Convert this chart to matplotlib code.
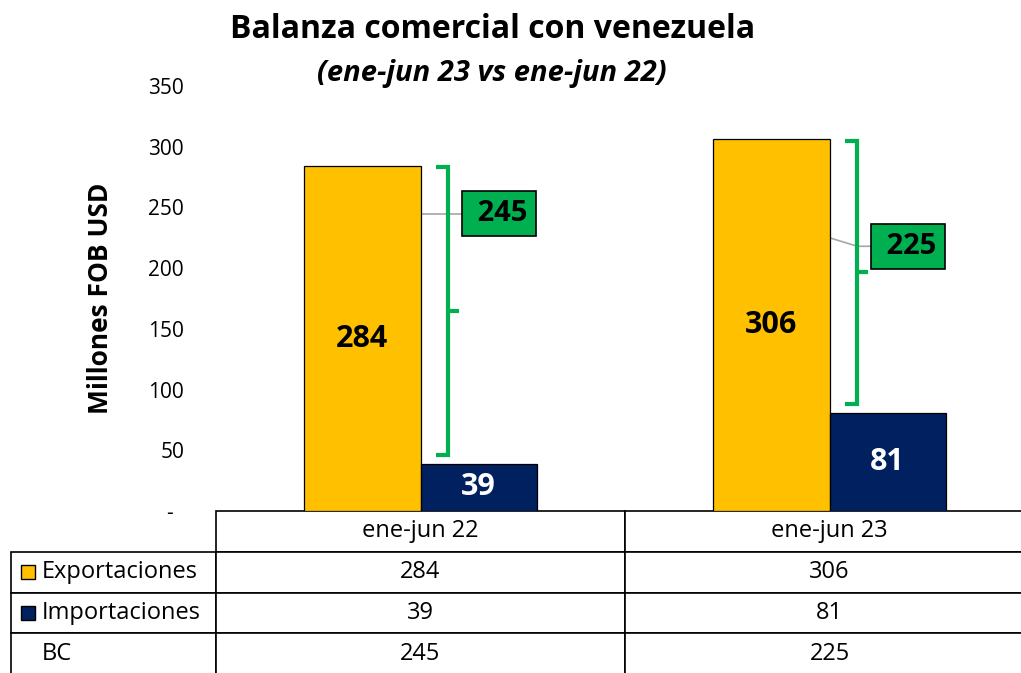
import matplotlib
matplotlib.use("Agg")
import matplotlib.pyplot as plt
from matplotlib.table import Table
import numpy as np

plt.rcParams['font.family'] = ['Open Sans', 'DejaVu Sans']

# datos
periodos = ['ene-jun 22', 'ene-jun 23']
exportaciones = [284, 306]
importaciones = [39, 81]
balanza = [245, 225]
yticks = [0, 50, 100, 150, 200, 250, 300, 350]
ytick_labels = ['-  ', '50', '100', '150', '200', '250', '300', '350']

c_exp = '#FFC000'
c_imp = '#002060'
c_bc = '#00B050'

fig = plt.figure(figsize=(10.21, 6.73), dpi=100)
ax = fig.add_axes([216 / 1021, 162 / 673, 818 / 1021, 425 / 673])

x = np.arange(len(periodos))
w = 0.284
ax.bar(x - w / 2, exportaciones, w, color=c_exp, edgecolor='black', linewidth=0.9, zorder=2)
ax.bar(x + w / 2, importaciones, w, color=c_imp, edgecolor='black', linewidth=0.9, zorder=2)

for i in range(len(periodos)):
    ax.text(x[i] - w / 2, exportaciones[i] / 2, str(exportaciones[i]), ha='center', va='center',
            fontsize=22, fontweight='bold', color='black', zorder=3)
    ax.text(x[i] + w / 2, importaciones[i] / 2, str(importaciones[i]), ha='center', va='center',
            fontsize=22, fontweight='bold', color='white', zorder=3)

    # llave verde entre exportaciones e importaciones
    bx = x[i] + 0.068
    top = exportaciones[i] - 1
    bot = importaciones[i] + 7
    ax.plot([bx - 0.03, bx, bx, bx - 0.03], [top, top, bot, bot], color=c_bc, lw=3,
            solid_capstyle='butt', solid_joinstyle='miter', zorder=3)
    mid = (top + bot) / 2
    ax.plot([bx, bx + 0.025], [mid, mid], color=c_bc, lw=3, solid_capstyle='butt', zorder=3)

    # etiqueta de balanza
    ly = balanza[i] - (0 if i == 0 else 7)
    ax.plot([x[i], bx, x[i] + 0.11], [balanza[i], ly, ly], color='#A6A6A6', lw=1.2, zorder=1)
    ax.text(x[i] + 0.192, ly, ' ' + str(balanza[i]), ha='center', va='center', fontsize=21,
            fontweight='bold', color='black', zorder=4,
            bbox=dict(boxstyle='square,pad=0.28', facecolor=c_bc, edgecolor='black', linewidth=1.2))

ax.set_xlim(-0.5, 1.5)
ax.set_ylim(0, 350)
ax.set_yticks(yticks)
ax.set_yticklabels(ytick_labels, fontsize=15)
ax.set_xticks([])
ax.tick_params(axis='y', length=0, pad=23)
for s in ax.spines.values():
    s.set_visible(False)

ax.set_ylabel('Millones FOB USD', fontsize=19, fontweight='bold')
ax.yaxis.set_label_coords(-0.1247, 0.5)

# tabla de datos
tb = Table(ax, bbox=[-205 / 818, -163 / 425, 1023 / 818, 163 / 425])
cw = [205 / 1023, 409 / 1023, 409 / 1023]
rh = 0.25
filas = [['', periodos[0], periodos[1]],
         ['Exportaciones', str(exportaciones[0]), str(exportaciones[1])],
         ['Importaciones', str(importaciones[0]), str(importaciones[1])],
         ['BC', str(balanza[0]), str(balanza[1])]]
for r, fila in enumerate(filas):
    for c, txt in enumerate(fila):
        cell = tb.add_cell(r, c, width=cw[c], height=rh, text=txt,
                           loc='left' if c == 0 else 'center', facecolor='white', edgecolor='black')
        cell.set_linewidth(1.2)
        if c == 0:
            cell.PAD = 0.15
        if r == 0 and c == 0:
            cell.visible_edges = ''
tb.auto_set_font_size(False)
tb.set_fontsize(17)
ax.add_table(tb)

# cuadros de leyenda
row_h = 163 / 425 / 4
ax.plot([-0.2304], [-row_h * 1.5], marker='s', ms=9.5, mfc=c_exp, mec='black', mew=1,
        transform=ax.transAxes, clip_on=False, zorder=5)
ax.plot([-0.2304], [-row_h * 2.5], marker='s', ms=9.5, mfc=c_imp, mec='black', mew=1,
        transform=ax.transAxes, clip_on=False, zorder=5)

fig.text(493 / 1021, 1 - 30 / 673, 'Balanza comercial con venezuela', ha='center', va='center',
         fontsize=23, fontweight='bold')
fig.text(492 / 1021, 1 - 73 / 673, '(ene-jun 23 vs ene-jun 22)', ha='center', va='center',
         fontsize=21, fontweight='bold', fontstyle='italic')

fig.savefig('out.png', dpi=100)
